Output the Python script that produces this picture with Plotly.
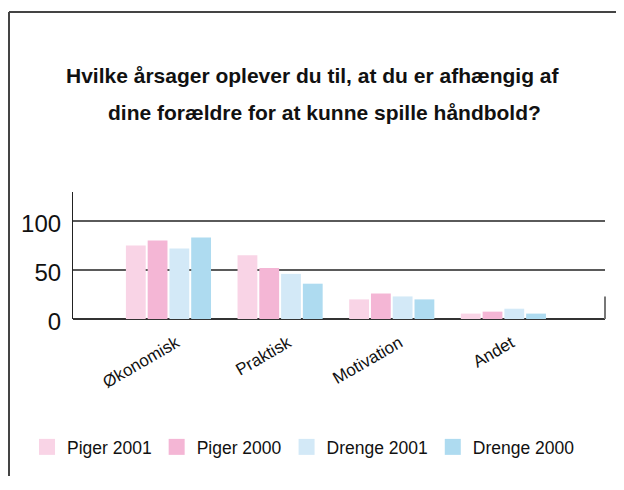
import plotly.graph_objects as go

categories = ["Økonomisk", "Praktisk", "Motivation", "Andet"]
series_names = ["Piger 2001", "Piger 2000", "Drenge 2001", "Drenge 2000"]
piger_2001 = [75, 65, 20, 5.5]
piger_2000 = [80, 52, 26, 7.5]
drenge_2001 = [72, 46, 23, 10.5]
drenge_2000 = [83, 36, 20, 5.5]
y_ticks = [0, 50, 100]
title_lines = ["Hvilke årsager oplever du til, at du er afhængig af",
               "dine forældre for at kunne spille håndbold?"]

colors = ["#F9D4E6", "#F4B6D5", "#D3E9F7", "#AEDBF0"]
font_main = "Liberation Sans, Arial, sans-serif"

# the page has an 8px body margin, keep the figure inside the window (no scrollbars)
W, H = 608, 468
L, R, T, B = 65, 11, 184, 157
pw, ph = W - L - R, H - T - B


def px(x):
    return (x - L) / pw


def py(y):
    return (H - B - y) / ph


fig = go.Figure()
xs = list(range(len(categories)))
for name, vals, c in zip(series_names, [piger_2001, piger_2000, drenge_2001, drenge_2000], colors):
    fig.add_trace(go.Bar(x=xs, y=vals, name=name, marker=dict(color=c, line=dict(width=0)), showlegend=False))
    fig.add_trace(go.Scatter(x=[None], y=[None], mode="markers", name=name,
                             marker=dict(symbol="square", size=20, color=c)))

fig.update_layout(
    width=W, height=H,
    margin=dict(l=L, r=R, t=T, b=B),
    paper_bgcolor="white", plot_bgcolor="white",
    barmode="group", bargap=0.22, bargroupgap=0.09,
    font=dict(family=font_main, color="#111"),
    legend=dict(orientation="h", x=px(19), xanchor="left", y=py(439), yanchor="middle",
                font=dict(size=17.5, family=font_main), bgcolor="rgba(0,0,0,0)"),
    xaxis=dict(range=[-0.855, 3.91], tickvals=xs, ticktext=categories, tickangle=-30,
               showgrid=False, zeroline=False, showline=False, ticks="",
               tickfont=dict(size=17, family=font_main), ticklabelstandoff=10, ticklabelshift=8),
    yaxis=dict(range=[0, 129.5], tickvals=y_ticks, showgrid=True, gridcolor="#5a5a5a", gridwidth=1.5,
               zeroline=True, zerolinecolor="#333", zerolinewidth=1.5,
               showline=True, linecolor="#222", linewidth=1.2, ticks="",
               tickfont=dict(size=24, family=font_main), ticklabelstandoff=6, ticklabelshift=3),
)

for text, cx, cy in zip(title_lines, [304, 316], [67, 104]):
    fig.add_annotation(text=f"<b>{text}</b>", xref="paper", yref="paper", x=px(cx), y=py(cy),
                       xanchor="center", yanchor="middle", showarrow=False,
                       font=dict(family=font_main, size=21, color="#111"))

# outer frame (top and left edges) and the short right-side stub
fig.add_shape(type="line", xref="paper", yref="paper", x0=px(1), x1=px(W), y0=py(4), y1=py(4),
              line=dict(color="#444", width=2))
fig.add_shape(type="line", xref="paper", yref="paper", x0=px(1), x1=px(1), y0=py(4), y1=py(H),
              line=dict(color="#444", width=2))
fig.add_shape(type="line", xref="paper", yref="y", x0=1, x1=1, y0=0, y1=23,
              line=dict(color="#777", width=2))

fig.write_html("out.html")
